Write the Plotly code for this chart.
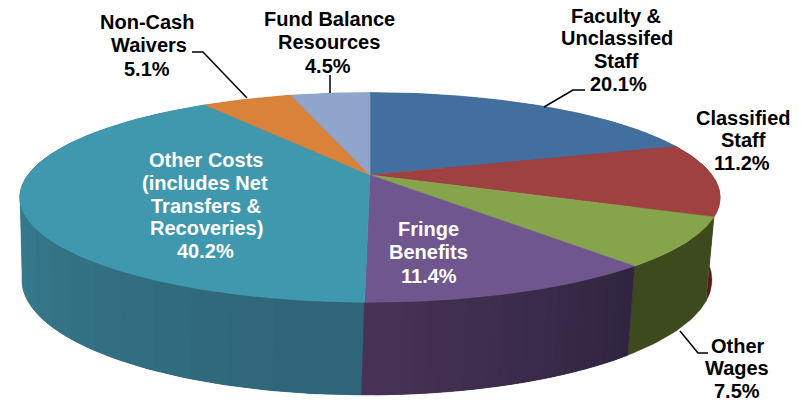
import numpy as np
import plotly.graph_objects as go

categories = ["Faculty & Unclassifed Staff", "Classified Staff", "Other Wages", "Fringe Benefits",
              "Other Costs (includes Net Transfers & Recoveries)", "Non-Cash Waivers", "Fund Balance Resources"]
shares = [20.1, 11.2, 7.5, 11.4, 40.2, 5.1, 4.5]
top_colors = ["#436f9f", "#a04141", "#86a44c", "#70568f", "#4098ae", "#d9823a", "#8fa5cb"]
wall_start = ["#2c4a6c", "#581a20", "#3c4a1e", "#2f2540", "#2f6577", "#8a5020", "#5c6c88"]
wall_end = ["#2c4a6c", "#581a20", "#3c4a1e", "#483356", "#3f94aa", "#8a5020", "#5c6c88"]

label_lines = [
    (["Faculty &", "Unclassifed", "Staff", "20.1%"], [616, 617, 616, 618], [16, 38, 61, 84], "black"),
    (["Classified", "Staff", "11.2%"], [743, 743, 742], [118, 140, 163], "black"),
    (["Other", "Wages", "7.5%"], [738, 737, 737], [346, 368, 391], "black"),
    (["Fringe", "Benefits", "11.4%"], [428, 428, 429], [229, 252, 276], "white"),
    (["Other Costs", "(includes Net", "Transfers &", "Recoveries)", "40.2%"],
     [206, 205, 206, 206, 205], [160, 183, 206, 228, 251], "white"),
    (["Non-Cash", "Waivers", "5.1%"], [147, 149, 147], [22, 45, 69], "black"),
    (["Fund Balance", "Resources", "4.5%"], [329, 329, 328], [19, 42, 66], "black"),
]
leaders = [
    ([585, 573, 544], [90, 90, 107]),
    ([708, 698, 680], [353, 353, 331]),
    ([192, 203, 247], [52, 52, 98]),
    ([330, 330], [75, 93]),
]

# perspective view of the pie's top and bottom circles, in axis units
K = 0.214
TOP = dict(cx=370, cy=175, a=342, b=100)
BOTTOM = dict(cx=367, cy=255.4, a=337, b=109.7)


def rim(theta, p):
    u, v = np.sin(theta), np.cos(theta)
    d = 1 + K * v
    return p["cx"] + p["a"] * u / d, p["cy"] - p["b"] * v / d


def hex_rgb(h):
    return np.array([int(h[i:i + 2], 16) for i in (1, 3, 5)], float)


fig = go.Figure()
edges = np.radians(np.cumsum([0] + shares) * 3.6)


def poly(x, y, color, lw=0.6):
    fig.add_trace(go.Scatter(x=list(x), y=list(y), mode="lines", fill="toself", fillcolor=color,
                             line=dict(color=color, width=lw), hoverinfo="skip", showlegend=False))


# side walls as thin shaded panels, far panels first so nearer ones cover the joins
panels = []
for i in range(len(shares)):
    n = 24 if wall_start[i] != wall_end[i] else 1
    cuts = np.linspace(edges[i], edges[i + 1], n + 1)
    c0, c1 = hex_rgb(wall_start[i]), hex_rgb(wall_end[i])
    step = cuts[1] - cuts[0]
    for j in range(n):
        lo = max(edges[i], cuts[j] - step)
        hi = min(edges[i + 1], cuts[j + 1] + step)
        c = c0 + (c1 - c0) * (j + 0.5) / n
        panels.append((-np.cos((cuts[j] + cuts[j + 1]) / 2), lo, hi, "rgb(%d,%d,%d)" % tuple(c)))
for _, lo, hi, color in sorted(panels, key=lambda p: p[0]):
    t = np.linspace(lo, hi, 24)
    xt, yt = rim(t, TOP)
    xb, yb = rim(t[::-1], BOTTOM)
    poly(np.r_[xt, xb, xt[0]], np.r_[yt, yb, yt[0]], color, 0.3)

# top faces
for i in range(len(shares)):
    t = np.linspace(edges[i], edges[i + 1], 80)
    x, y = rim(t, TOP)
    poly(np.r_[TOP["cx"], x, TOP["cx"]], np.r_[TOP["cy"], y, TOP["cy"]], top_colors[i])

# leader lines
for lx, ly in leaders:
    fig.add_trace(go.Scatter(x=lx, y=ly, mode="lines", line=dict(color="black", width=1.5),
                             hoverinfo="skip", showlegend=False))

annotations = []
for lines, xs, ys, col in label_lines:
    for text, x, y in zip(lines, xs, ys):
        annotations.append(dict(x=x, y=y, xref="x", yref="y", text="<b>%s</b>" % text, showarrow=False,
                                xanchor="center", yanchor="middle",
                                font=dict(family="Liberation Sans, Arial, sans-serif", size=20, color=col)))

fig.update_layout(
    width=801, height=401, margin=dict(l=0, r=0, t=0, b=0),
    paper_bgcolor="white", plot_bgcolor="white", showlegend=False,
    xaxis=dict(range=[0, 801], visible=False, fixedrange=True),
    yaxis=dict(range=[401, 0], visible=False, fixedrange=True),
    annotations=annotations,
)
fig.write_html("out.html", config={"displayModeBar": False},
               post_script="document.body.style.margin='0';document.body.style.overflow='hidden';")
